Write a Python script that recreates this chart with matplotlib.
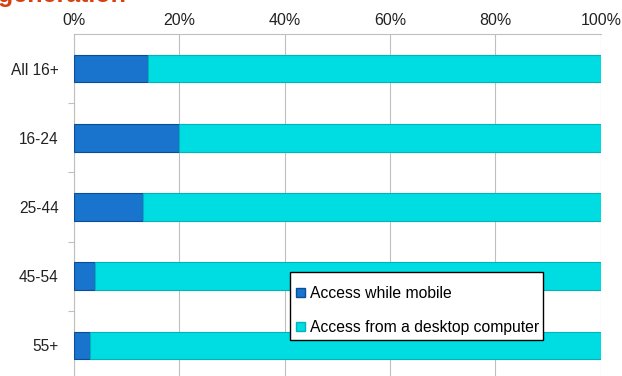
import matplotlib

matplotlib.use("Agg")
import matplotlib.pyplot as plt
from matplotlib.patches import Patch, Rectangle
from matplotlib.ticker import FixedLocator, PercentFormatter

plt.rcParams["font.family"] = ["Liberation Sans", "DejaVu Sans"]

# Share of internet access by age group
groups = ["All 16+", "16-24", "25-44", "45-54", "55+"]
mobile = [14, 20, 13, 4, 3]
desktop = [100 - m for m in mobile]
series_names = ["Access while mobile", "Access from a desktop computer"]
x_ticks = [0, 20, 40, 60, 80, 100]

MOBILE_C = "#1874cc"
MOBILE_EDGE = "#0b4d96"
DESK_C = "#00dde2"
DESK_EDGE = "#00b4ba"

W, H = 622, 376
fig = plt.figure(figsize=(W / 100, H / 100), dpi=100)
ax = fig.add_axes([0.119, -0.0106, 0.847, 0.9202])

ypos = list(range(len(groups)))
ax.barh(ypos, mobile, height=0.4, color=MOBILE_C, edgecolor=MOBILE_EDGE, lw=0.8, zorder=3)
ax.barh(ypos, desktop, left=mobile, height=0.4, color=DESK_C, edgecolor=DESK_EDGE, lw=0.8, zorder=3)

ax.set_xlim(0, 100)
ax.set_ylim(len(groups) - 0.5, -0.5)
ax.xaxis.tick_top()
ax.set_xticks(x_ticks)
ax.xaxis.set_major_formatter(PercentFormatter(decimals=0))
ax.tick_params(axis="x", length=0, pad=4.5, labelsize=11.5, colors="#222222")
ax.grid(axis="x", color="#bfbfbf", lw=0.8, zorder=0)

ax.set_yticks(ypos)
ax.set_yticklabels(groups)
ax.yaxis.set_minor_locator(FixedLocator([i + 0.5 for i in ypos[:-1]]))
ax.tick_params(axis="y", which="major", length=0, pad=11, labelsize=11.2, colors="#222222")
ax.tick_params(axis="y", which="minor", length=4, color="#bfbfbf", width=0.8)

for side in ("right", "bottom"):
    ax.spines[side].set_visible(False)
for side in ("left", "top"):
    ax.spines[side].set_color("#bfbfbf")
    ax.spines[side].set_linewidth(0.8)

# legend box drawn separately so its padding can differ per side
box = Rectangle((290 / W, 1 - 340 / H), 253 / W, 68 / H, transform=fig.transFigure,
                facecolor="white", edgecolor="black", lw=1.0, zorder=9)
fig.add_artist(box)

handles = [
    Patch(facecolor=MOBILE_C, edgecolor=MOBILE_EDGE, label=series_names[0]),
    Patch(facecolor=DESK_C, edgecolor=DESK_EDGE, label=series_names[1]),
]
leg = fig.legend(
    handles=handles,
    loc="upper left",
    bbox_to_anchor=(296 / W, 1 - 286 / H),
    fontsize=11.3,
    frameon=False,
    handlelength=0.55,
    handleheight=0.55,
    handletextpad=0.35,
    labelspacing=1.2,
    borderpad=0,
    borderaxespad=0,
)
leg.set_zorder(10)

# Title runs off the top edge
fig.text(-0.003, 1 - 2 / H, "generation", color="#d9400f", fontsize=18, fontweight="bold",
         ha="left", va="baseline")

fig.savefig("out.png", dpi=100)
